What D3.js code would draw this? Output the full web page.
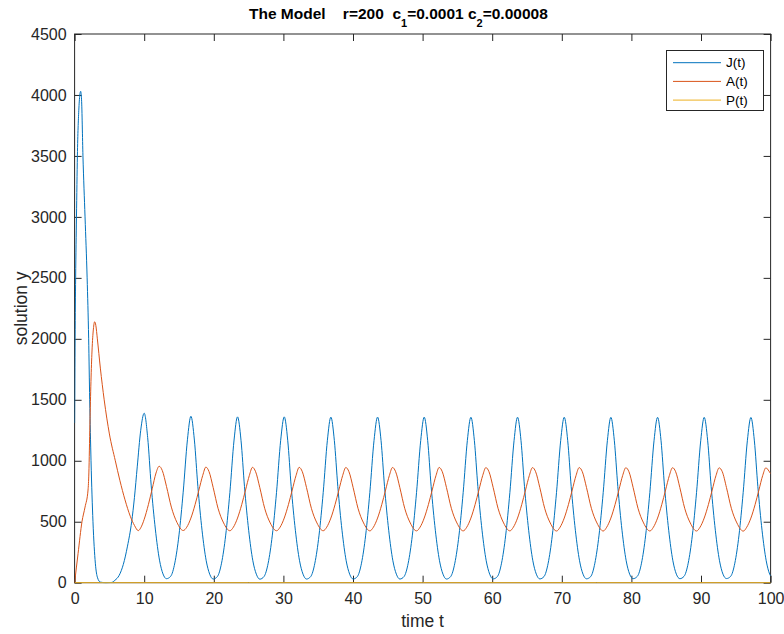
<!DOCTYPE html>
<html>
<head>
<meta charset="utf-8">
<script src="https://cdn.jsdelivr.net/npm/d3@7"></script>
<style>
  html, body { margin: 0; padding: 0; background: #ffffff; }
  svg { display: block; font-family: "Liberation Sans", Arial, Helvetica, sans-serif; }
</style>
</head>
<body>
<svg id="chart" width="784" height="634"></svg>
<script>
// ---- data ----
const seriesNames = ["J(t)", "A(t)", "P(t)"];
const seriesColors = ["#0072BD", "#D95319", "#EDB120"];
const xTicks = [0, 10, 20, 30, 40, 50, 60, 70, 80, 90, 100];
const yTicks = [0, 500, 1000, 1500, 2000, 2500, 3000, 3500, 4000, 4500];

// J(t): [t, value]
const jData = [
  [0,1310],[0.07,2000],[0.15,2500],[0.27,3000],[0.4,3500],[0.6,3870],[0.75,4000],[0.87,4030],
  [1.0,3960],[1.2,3500],[1.5,3000],[1.8,2500],[2.02,2000],[2.17,1500],[2.36,1000],[2.64,500],
  [2.98,160],[3.3,40],[3.7,5],[4.5,0],[5.3,2],[5.8,20],[6.4,60],[7.0,150],[7.6,300],[8.2,500],
  [8.6,700],[9.0,950],[9.5,1250],
  [10.0,1390],[10.5,1190],[11.0,800],[11.6,440],[12.2,185],[12.7,72],[13.2,33],[13.8,52],[14.4,162],[15.0,392],[15.6,742],[16.21,1172],
  [16.71,1365],[17.21,1170],[17.71,790],[18.31,430],[18.91,180],[19.41,70],[19.91,30],[20.51,50],[21.11,160],[21.71,390],[22.31,740],[22.91,1170],
  [23.41,1360],[23.91,1168],[24.41,788],[25.01,430],[25.61,180],[26.11,70],[26.61,29],[27.21,50],[27.81,160],[28.41,390],[29.01,740],[29.61,1168],
  [30.12,1360],[30.62,1168],[31.12,788],[31.72,430],[32.32,180],[32.82,70],[33.32,30],[33.92,50],[34.52,160],[35.12,390],[35.72,740],[36.32,1168],
  [36.82,1358],[37.32,1166],[37.82,788],[38.42,430],[39.02,180],[39.52,70],[40.02,30],[40.62,50],[41.22,160],[41.82,390],[42.42,740],[43.02,1166],
  [43.53,1358],[44.03,1166],[44.53,788],[45.13,430],[45.73,180],[46.23,70],[46.73,30],[47.33,50],[47.93,160],[48.53,390],[49.13,740],[49.73,1166],
  [50.23,1358],[50.73,1166],[51.23,788],[51.83,430],[52.43,180],[52.93,70],[53.43,30],[54.03,50],[54.63,160],[55.23,390],[55.83,740],[56.43,1166],
  [56.94,1357],[57.44,1165],[57.94,788],[58.54,430],[59.14,180],[59.64,70],[60.14,31],[60.74,50],[61.34,160],[61.94,390],[62.54,740],[63.14,1165],
  [63.64,1357],[64.14,1165],[64.64,788],[65.24,430],[65.84,180],[66.34,70],[66.84,31],[67.44,50],[68.04,160],[68.64,390],[69.24,740],[69.84,1165],
  [70.35,1357],[70.85,1165],[71.35,788],[71.95,430],[72.55,180],[73.05,70],[73.55,32],[74.15,50],[74.75,160],[75.35,390],[75.95,740],[76.55,1165],
  [77.05,1356],[77.55,1164],[78.05,788],[78.65,430],[79.25,180],[79.75,70],[80.25,33],[80.85,52],[81.45,160],[82.05,390],[82.65,740],[83.25,1164],
  [83.76,1356],[84.26,1164],[84.76,788],[85.36,430],[85.96,180],[86.46,70],[86.96,33],[87.56,52],[88.16,160],[88.76,390],[89.36,740],[89.96,1164],
  [90.46,1356],[90.96,1164],[91.46,788],[92.06,430],[92.66,180],[93.16,70],[93.66,34],[94.26,52],[94.86,160],[95.46,390],[96.06,740],[96.66,1164],
  [97.17,1355],[97.67,1163],[98.17,788],[98.77,430],[99.37,180],[99.87,70],[100,55]
];

// A(t): [t, value]
const aData = [
  [0,0],[0.5,240],[1.06,500],[1.5,620],[1.93,760],[2.05,900],[2.2,1300],[2.35,1650],[2.5,1900],[2.7,2080],
  [2.88,2140],[3.05,2110],[3.27,2000],[3.7,1760],[4.25,1500],[5.0,1220],[5.85,1000],[6.5,840],[7.24,680],
  [8.0,545],[8.6,470],
  [9.15,427],[9.5,450],[10.0,520],[10.6,640],[11.15,770],[11.7,900],[12.15,955],[12.6,920],[13.2,790],[13.9,620],[14.7,495],
  [15.61,428],[16.11,455],[16.71,530],[17.31,640],[17.86,760],[18.41,880],[18.86,948],[19.31,912],[19.91,780],[20.61,610],[21.41,490],
  [22.31,426],[22.81,455],[23.41,530],[24.01,640],[24.56,760],[25.11,880],[25.56,946],[26.01,910],[26.61,780],[27.31,610],[28.11,490],
  [29.02,426],[29.52,455],[30.12,530],[30.72,640],[31.27,760],[31.82,880],[32.27,946],[32.72,910],[33.32,780],[34.02,610],[34.82,490],
  [35.72,426],[36.22,455],[36.82,530],[37.42,640],[37.97,760],[38.52,880],[38.97,945],[39.42,910],[40.02,780],[40.72,610],[41.52,490],
  [42.43,425],[42.93,455],[43.53,530],[44.13,640],[44.68,760],[45.23,880],[45.68,945],[46.13,910],[46.73,780],[47.43,610],[48.23,490],
  [49.13,425],[49.63,455],[50.23,530],[50.83,640],[51.38,760],[51.93,880],[52.38,945],[52.83,910],[53.43,780],[54.13,610],[54.93,490],
  [55.84,425],[56.34,455],[56.94,530],[57.54,640],[58.09,760],[58.64,880],[59.09,944],[59.54,910],[60.14,780],[60.84,610],[61.64,490],
  [62.54,425],[63.04,455],[63.64,530],[64.24,640],[64.79,760],[65.34,880],[65.79,944],[66.24,910],[66.84,780],[67.54,610],[68.34,490],
  [69.25,424],[69.75,455],[70.35,530],[70.95,640],[71.50,760],[72.05,880],[72.50,944],[72.95,910],[73.55,780],[74.25,610],[75.05,490],
  [75.95,424],[76.45,455],[77.05,530],[77.65,640],[78.20,760],[78.75,880],[79.20,943],[79.65,910],[80.25,780],[80.95,610],[81.75,490],
  [82.66,424],[83.16,455],[83.76,530],[84.36,640],[84.91,760],[85.46,880],[85.91,943],[86.36,910],[86.96,780],[87.66,610],[88.46,490],
  [89.36,424],[89.86,455],[90.46,530],[91.06,640],[91.61,760],[92.16,880],[92.61,942],[93.06,910],[93.66,780],[94.36,610],[95.16,490],
  [96.07,423],[96.57,455],[97.17,530],[97.77,640],[98.32,760],[98.87,880],[99.32,942],[99.77,915],[100,895]
];

// P(t): [t, value]
const pData = [[0,0],[25,0],[50,0],[75,0],[100,0]];

// ---- layout ----
const svg = d3.select("#chart");
const plot = { left: 74.6, right: 770.6, top: 34, bottom: 582.7 };
const textColor = "#262626";
const fontStack = '"Liberation Sans", Arial, Helvetica, sans-serif';

const x = d3.scaleLinear().domain([0, 100]).range([plot.left, plot.right]);
const y = d3.scaleLinear().domain([0, 4500]).range([plot.bottom, plot.top]);

// axes box
svg.append("rect")
  .attr("x", plot.left).attr("y", plot.top)
  .attr("width", plot.right - plot.left).attr("height", plot.bottom - plot.top)
  .attr("fill", "none").attr("stroke", textColor).attr("stroke-width", 1);

function styleAxis(g) {
  g.select(".domain").remove();
  g.selectAll(".tick line").attr("stroke", textColor).attr("stroke-width", 1);
  g.selectAll(".tick text").attr("fill", textColor)
    .style("font-size", "16px").style("font-family", fontStack);
}

svg.append("g").attr("transform", `translate(0,${plot.bottom})`)
  .call(d3.axisBottom(x).tickValues(xTicks).tickSizeInner(-7).tickSizeOuter(0).tickPadding(10).tickFormat(d3.format("d")))
  .call(styleAxis);
svg.append("g").attr("transform", `translate(0,${plot.top})`)
  .call(d3.axisTop(x).tickValues(xTicks).tickSizeInner(-7).tickSizeOuter(0).tickFormat(""))
  .call(styleAxis);
svg.append("g").attr("transform", `translate(${plot.left},0)`)
  .call(d3.axisLeft(y).tickValues(yTicks).tickSizeInner(-7).tickSizeOuter(0).tickPadding(8).tickFormat(d3.format("d")))
  .call(styleAxis);
svg.append("g").attr("transform", `translate(${plot.right},0)`)
  .call(d3.axisRight(y).tickValues(yTicks).tickSizeInner(-7).tickSizeOuter(0).tickFormat(""))
  .call(styleAxis);

// lines
const line = d3.line().x(d => x(d[0])).y(d => y(d[1])).curve(d3.curveMonotoneX);
const allSeries = [jData, aData, pData];
svg.append("clipPath").attr("id", "clip").append("rect")
  .attr("x", plot.left).attr("y", plot.top - 1)
  .attr("width", plot.right - plot.left).attr("height", plot.bottom - plot.top + 2);
const lines = svg.append("g").attr("clip-path", "url(#clip)");
allSeries.forEach((data, i) => {
  lines.append("path").datum(data)
    .attr("fill", "none").attr("stroke", seriesColors[i]).attr("stroke-width", 1)
    .attr("stroke-linejoin", "round")
    .attr("d", line);
});

// title
const NB = "\u00A0";
const title = svg.append("text").attr("x", 249).attr("y", 18.5).attr("fill", "#000")
  .style("font-size", "15.5px").style("font-weight", "bold");
title.append("tspan").text("The Model" + NB.repeat(4) + "r=200" + NB.repeat(2) + "c");
title.append("tspan").attr("dy", 8).style("font-size", "11px").text("1");
title.append("tspan").attr("dy", -8).text("=0.0001" + NB + "c");
title.append("tspan").attr("dy", 8).style("font-size", "11px").text("2");
title.append("tspan").attr("dy", -8).text("=0.00008");

// axis labels
svg.append("text").attr("x", (plot.left + plot.right) / 2).attr("y", 627)
  .attr("text-anchor", "middle").attr("fill", textColor)
  .style("font-size", "17.5px").text("time t");
svg.append("text")
  .attr("transform", `translate(27,${(plot.top + plot.bottom) / 2}) rotate(-90)`)
  .attr("text-anchor", "middle").attr("fill", textColor)
  .style("font-size", "17.5px").text("solution y");

// legend
const legend = svg.append("g");
legend.append("rect").attr("x", 666.5).attr("y", 50.5).attr("width", 97).attr("height", 60)
  .attr("fill", "#fff").attr("stroke", textColor).attr("stroke-width", 1);
seriesNames.forEach((name, i) => {
  const ly = 62.7 + i * 18.7;
  legend.append("line").attr("x1", 673).attr("x2", 721).attr("y1", ly).attr("y2", ly)
    .attr("stroke", seriesColors[i]).attr("stroke-width", 1);
  legend.append("text").attr("x", 726).attr("y", ly).attr("dy", "0.35em")
    .attr("fill", "#000").style("font-size", "13.5px").text(name);
});
</script>
</body>
</html>
